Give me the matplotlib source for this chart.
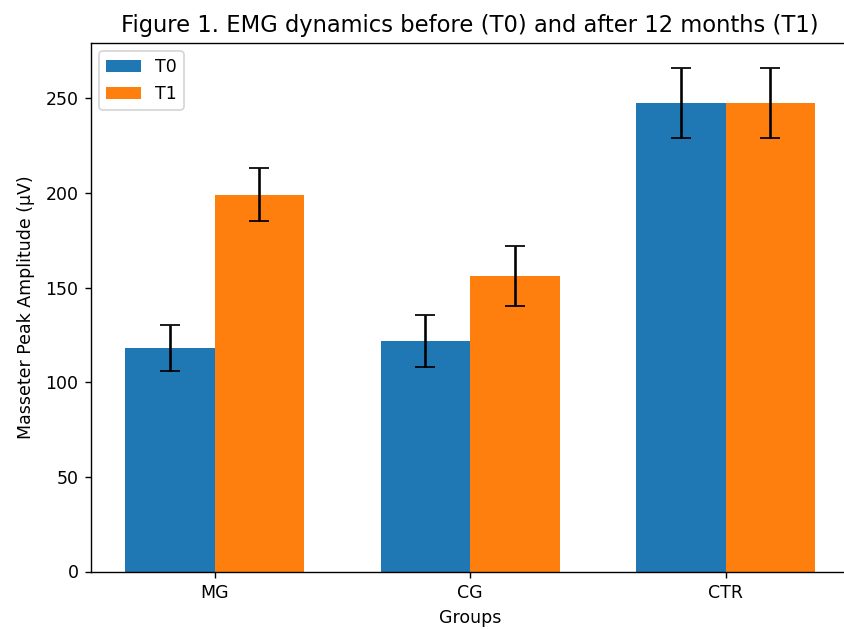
import numpy as np
import matplotlib
matplotlib.use('Agg')
import matplotlib.pyplot as plt

# Gruppen und Messwerte (Masseter Peak Amplitude, µV)
groups = ['MG', 'CG', 'CTR']
t0_mean = [118.2, 121.9, 247.7]
t0_sd = [12.3, 13.7, 18.5]
t1_mean = [199.1, 156.1, 247.7]
t1_sd = [14.1, 15.7, 18.5]

x = np.arange(len(groups))
width = 0.35

dpi = 125
fig = plt.figure(figsize=(844 / dpi, 629 / dpi), dpi=dpi)
# Achsen rechts abgeschnitten wie im Original
ax = fig.add_axes([90.7 / 844, 1 - 571.5 / 629, 759 / 844, 529 / 629])

ax.bar(x - width / 2, t0_mean, width, yerr=t0_sd, capsize=5.5, label='T0')
ax.bar(x + width / 2, t1_mean, width, yerr=t1_sd, capsize=5.5, label='T1')

ax.set_xticks(x)
ax.set_xticklabels(groups)
ax.set_xlabel('Groups')
ax.set_ylabel('Masseter Peak Amplitude (μV)', labelpad=6)
ax.set_title('Figure 1. EMG dynamics before (T0) and after 12 months (T1)', fontsize=13)
ax.legend()
ax.spines['right'].set_visible(False)

fig.savefig('out.png', dpi=dpi)
